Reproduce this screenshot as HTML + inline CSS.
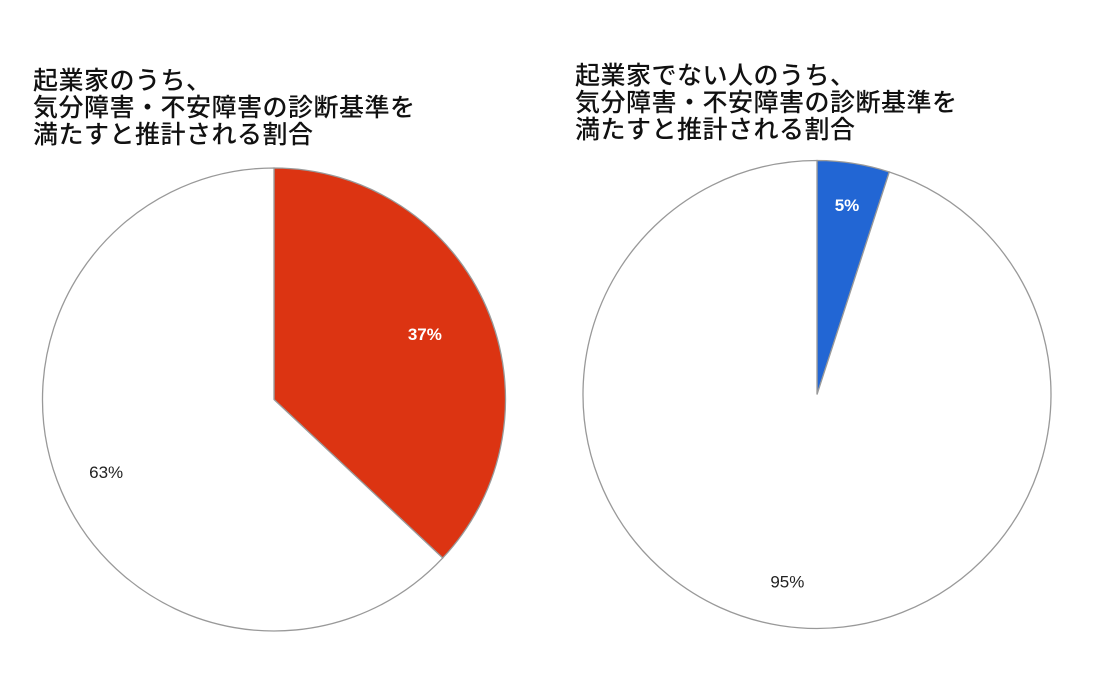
<!DOCTYPE html>
<html><head><meta charset="utf-8"><style>
html,body{margin:0;padding:0;background:#fff;}
body{width:1096px;height:692px;position:relative;overflow:hidden;font-family:"Liberation Sans","Noto Sans CJK JP",sans-serif;}
.title{position:absolute;font-family:"Noto Sans CJK JP",sans-serif;font-size:25px;line-height:27px;color:#111;font-weight:500;letter-spacing:0.5px;}
svg{position:absolute;left:0;top:0;}
</style></head><body>
<div class="title" style="left:33px;top:66px;">起業家のうち、<br>気分障害・不安障害の診断基準を<br>満たすと推計される割合</div>
<div class="title" style="left:575px;top:61px;">起業家でない人のうち、<br>気分障害・不安障害の診断基準を<br>満たすと推計される割合</div>
<svg id="chart" width="1096" height="692"></svg>
<script>
const leftLabels = ["37%", "63%"];
const leftValues = [37, 63];
const rightLabels = ["5%", "95%"];
const rightValues = [5, 95];
const NS = "http://www.w3.org/2000/svg";
const svg = document.getElementById("chart");
function drawPie(values, labels, cx, cy, r, colors, textColors, prefix, labelR) {
  const total = values.reduce((a, b) => a + b, 0);
  let start = 0;
  values.forEach((v, i) => {
    const a0 = start / total * 2 * Math.PI, a1 = (start + v) / total * 2 * Math.PI;
    const x0 = cx + r * Math.sin(a0), y0 = cy - r * Math.cos(a0);
    const x1 = cx + r * Math.sin(a1), y1 = cy - r * Math.cos(a1);
    const large = (a1 - a0) > Math.PI ? 1 : 0;
    const p = document.createElementNS(NS, "path");
    p.setAttribute("d", `M${cx},${cy} L${x0},${y0} A${r},${r} 0 ${large} 1 ${x1},${y1} Z`);
    p.setAttribute("fill", colors[i]);
    p.setAttribute("stroke", "#999");
    p.setAttribute("stroke-width", "1.3");
    
    
    svg.appendChild(p);
    const am = (a0 + a1) / 2;
    const t = document.createElementNS(NS, "text");
    t.setAttribute("x", cx + r * labelR[i] * Math.sin(am));
    t.setAttribute("y", cy - r * labelR[i] * Math.cos(am) + 6);
    t.setAttribute("text-anchor", "middle");
    t.setAttribute("font-size", "17");
    t.setAttribute("font-weight", textColors[i] === "#fff" ? "bold" : "normal");
    t.setAttribute("fill", textColors[i]);
    t.setAttribute("font-family", "Liberation Sans, sans-serif");
    t.textContent = labels[i];
    
    
    svg.appendChild(t);
    start += v;
  });
}
drawPie(leftValues, leftLabels, 274, 399.5, 231.5, ["#dc3412", "#ffffff"], ["#fff", "#222"], "left", [0.71, 0.79]);
drawPie(rightValues, rightLabels, 817, 394.5, 234, ["#2266d4", "#ffffff"], ["#fff", "#222"], "right", [0.82, 0.81]);
</script>
</body></html>
